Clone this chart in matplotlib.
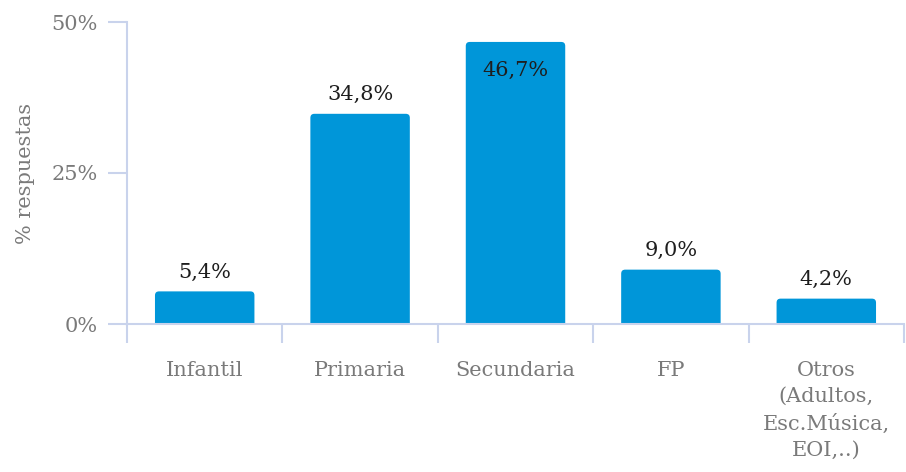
import matplotlib
matplotlib.use("Agg")
import matplotlib.pyplot as plt
from matplotlib.patches import FancyBboxPatch
from matplotlib.ticker import FixedLocator

categories = ["Infantil", "Primaria", "Secundaria", "FP", "Otros\n(Adultos,\nEsc.Música,\nEOI,..)"]
values = [5.4, 34.8, 46.7, 9.0, 4.2]
value_labels = ["5,4%", "34,8%", "46,7%", "9,0%", "4,2%"]
yticks = [0, 25, 50]
ytick_labels = ["0%", "25%", "50%"]

plt.rcParams['font.family'] = ['DejaVu Serif']
AXIS_COL = "#c9d3ec"
TXT_COL = "#7a7a7a"
BAR_COL = "#0096d9"

fig = plt.figure(figsize=(9.06, 4.72), dpi=100)
top_px = 22
ax = fig.add_axes([127/906, (472-324)/472, (904-127)/906, (324-top_px)/472])

x = list(range(len(categories)))
bars = ax.bar(x, values, width=0.64, color=BAR_COL)
ax.set_xlim(-0.5, len(categories) - 0.5)
ax.set_ylim(0, 50)

# replace with rounded-top bars
px_x = (904-127) / len(categories)   # px per x unit
px_y = (324-top_px) / 50              # px per y unit
r_px = 4
for b in bars:
    bx, by, bw, bh = b.get_x(), b.get_y(), b.get_width(), b.get_height()
    b.set_visible(False)
    ext = 2.0
    p = FancyBboxPatch((bx, by - ext), bw, bh + ext,
                       boxstyle=f"round,pad=0,rounding_size={r_px/px_x}",
                       mutation_aspect=(px_x/px_y),
                       facecolor=BAR_COL, edgecolor="none", clip_on=True)
    ax.add_patch(p)

for xi, v, lab in zip(x, values, value_labels):
    if v + 6 > 50:
        ax.annotate(lab, (xi, v), xytext=(0, -14), textcoords="offset points",
                    ha="center", va="top", fontsize=15, color="#1e1e1e")
    else:
        ax.annotate(lab, (xi, v), xytext=(0, 7), textcoords="offset points",
                    ha="center", va="bottom", fontsize=15, color="#1e1e1e")

for s in ["top", "right"]:
    ax.spines[s].set_visible(False)
ax.spines["left"].set_color(AXIS_COL)
ax.spines["left"].set_linewidth(1.5)
ax.spines["bottom"].set_color(AXIS_COL)
ax.spines["bottom"].set_linewidth(1.5)

ax.set_yticks(yticks)
ax.set_yticklabels(ytick_labels)
ax.tick_params(axis="y", length=14, width=1.5, color=AXIS_COL, labelcolor=TXT_COL,
               labelsize=15, pad=7)

ax.set_xticks(x)
ax.set_xticklabels(categories, linespacing=1.45)
ax.xaxis.set_minor_locator(FixedLocator([i - 0.5 for i in range(len(categories) + 1)]))
ax.tick_params(axis="x", which="major", length=0, labelcolor=TXT_COL, labelsize=15, pad=27)
ax.tick_params(axis="x", which="minor", length=14, width=1.5, color=AXIS_COL)

ax.set_ylabel("% respuestas", fontsize=15, color=TXT_COL, labelpad=12)

fig.savefig("out.png", dpi=100)
